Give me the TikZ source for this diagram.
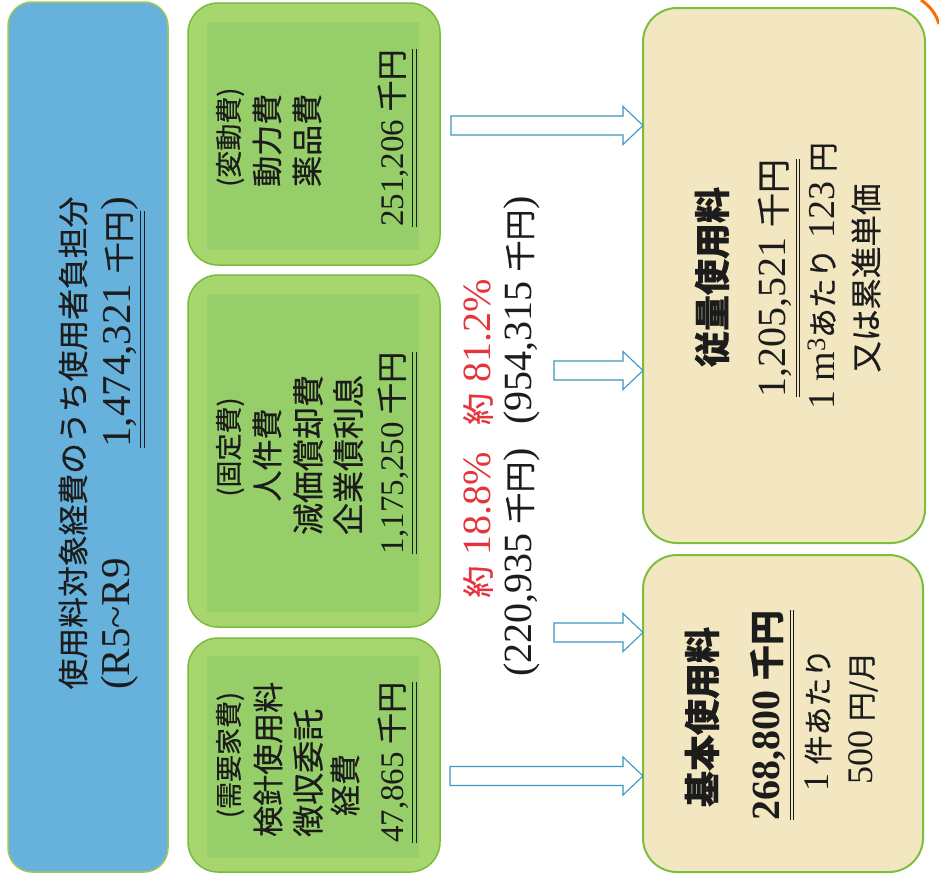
\documentclass[tikz,border=0pt]{standalone}
\usepackage{fontspec}
\setmainfont{Liberation Serif}
\newfontfamily\jp[FakeBold=0.6]{Noto Sans CJK JP}
\usetikzlibrary{calc}

\definecolor{bluefill}{HTML}{66B2DC}
\definecolor{blueedge}{HTML}{9CCB55}
\definecolor{greenfill}{HTML}{A8D66E}
\definecolor{greeninner}{HTML}{96CF69}
\definecolor{greenedge}{HTML}{7BBB3C}
\definecolor{beigefill}{HTML}{F3E7C1}
\definecolor{beigeedge}{HTML}{7DBF3C}
\definecolor{arrowedge}{HTML}{3D97BF}
\definecolor{redtxt}{HTML}{E5343C}
\definecolor{ink}{HTML}{1C1C1C}

\newcommand\sz[1]{\fontsize{#1}{#1}\selectfont}
\newcommand\J[2]{{\jp\sz{#1}#2}}
\newcommand\blockarrow[2]{%
  \draw[barrow] let \p1=(#1), \p2=(#2 |- #1) in
    (\x1,\y1+9.5pt) -- (\x2-20pt,\y1+9.5pt) -- (\x2-20pt,\y1+19pt) -- (\x2,\y1)
    -- (\x2-20pt,\y1-19pt) -- (\x2-20pt,\y1-9.5pt) -- (\x1,\y1-9.5pt) -- cycle;}

\tikzset{
  box/.style={rectangle, inner sep=0pt, outer sep=0pt},
  bluebox/.style={box, fill=bluefill, draw=blueedge, line width=1.5pt, rounded corners=24pt},
  greenbox/.style={box, fill=greenfill, draw=greenedge, line width=1.5pt, rounded corners=30pt},
  innerbox/.style={box, fill=greeninner},
  beigebox/.style={box, fill=beigefill, draw=beigeedge, line width=2pt, rounded corners=34pt},
  txt/.style={rotate=90, inner sep=0pt, text=ink},
  uline/.style={draw=ink, line width=1pt},
  barrow/.style={draw=arrowedge, line width=1.1pt, fill=white, line join=miter},
}

\begin{document}
\begin{tikzpicture}[x=1pt, y=-1pt]
\useasboundingbox (0,0) rectangle (939,876);
\fill[white] (0,0) rectangle (939,876);

% boxes
\node[bluebox, minimum width=160pt, minimum height=870pt] (blue) at (88,437) {};
\node[greenbox, minimum width=252pt, minimum height=262pt] (g1) at (314,134) {};
\node[innerbox, minimum width=212pt, minimum height=228pt] (g1i) at (313,136) {};
\node[greenbox, minimum width=252pt, minimum height=352pt] (g2) at (314,451) {};
\node[innerbox, minimum width=212pt, minimum height=318pt] (g2i) at (313,453) {};
\node[greenbox, minimum width=252pt, minimum height=234pt] (g3) at (314,755) {};
\node[innerbox, minimum width=212pt, minimum height=202pt] (g3i) at (313,757) {};
\node[beigebox, minimum width=282pt, minimum height=535pt] (b1) at (784,275.5) {};
\node[beigebox, minimum width=280pt, minimum height=317pt] (b2) at (783,713.5) {};

% orange fragment at top right
\draw[color=orange!85!red, line width=3pt] (921,0) .. controls (930,6) and (936,14) .. (939,24);

% arrows
\coordinate (a1s) at (451,125.5);
\coordinate (a2s) at (554,370.5);
\coordinate (a3s) at (554,632.5);
\coordinate (a4s) at (450,776);
\blockarrow{a1s}{b1.west}
\blockarrow{a2s}{b1.west}
\blockarrow{a3s}{b2.west}
\blockarrow{a4s}{b2.west}

% blue box texts
\node[txt] (bt1) at (73,443) {\J{30.8}{使用料対象経費のうち使用者負担分}};
\node[txt, anchor=west] (bt2a) at (120,690) {\sz{41}(R5\textasciitilde R9};
\node[txt, anchor=east] (bt2c) at (120,197) {\sz{41})};
\node[txt, anchor=east] (bt2b) at (bt2c.west) {\sz{41}1,474,321 \J{31}{千円}};
\draw[uline] ([xshift=4pt]bt2b.south west) -- ([xshift=4pt]bt2b.south east);
\draw[uline] ([xshift=7.5pt]bt2b.south west) -- ([xshift=7.5pt]bt2b.south east);

% green box 1
\node[txt, anchor=west] (g1a) at (230,187) {\J{27}{(変動費)}};
\node[txt, anchor=west] (g1b) at (267,187) {\J{31}{動力費}};
\node[txt, anchor=west] (g1c) at (307,187) {\J{31}{薬品費}};
\node[txt, anchor=west] (g1d) at (393,227) {\sz{33}251,206 \J{31}{千円}};
\draw[uline] ([xshift=4pt]g1d.south west) -- ([xshift=4pt]g1d.south east);
\draw[uline] ([xshift=7.5pt]g1d.south west) -- ([xshift=7.5pt]g1d.south east);

% green box 2
\node[txt] (g2a) at (230,447) {\J{27}{(固定費)}};
\node[txt] (g2b) at (267,455) {\J{31}{人件費}};
\node[txt] (g2c) at (308,455) {\J{32}{減価償却費}};
\node[txt] (g2d) at (348,455) {\J{32}{企業債利息}};
\node[txt] (g2e) at (393,453) {\sz{33}1,175,250 \J{31}{千円}};
\draw[uline] ([xshift=4pt]g2e.south west) -- ([xshift=4pt]g2e.south east);
\draw[uline] ([xshift=7.5pt]g2e.south west) -- ([xshift=7.5pt]g2e.south east);

% green box 3
\node[txt] (g3a) at (230,755) {\J{27}{(需要家費)}};
\node[txt, anchor=west] (g3b) at (268,837) {\J{31}{検針使用料}};
\node[txt, anchor=west] (g3c) at (308,837) {\J{32}{徴収委託}};
\node[txt] (g3d) at (345,785) {\J{31}{経費}};
\node[txt, anchor=west] (g3e) at (393,843) {\sz{33}47,865 \J{31}{千円}};
\draw[uline] ([xshift=4pt]g3e.south west) -- ([xshift=4pt]g3e.south east);
\draw[uline] ([xshift=7.5pt]g3e.south west) -- ([xshift=7.5pt]g3e.south east);

% middle texts
\node[txt, anchor=west, text=redtxt] (m1a) at (478,425) {\J{32}{約}\hspace{10pt}\sz{40}81.2\%};
\node[txt, anchor=west] (m1b) at (522,425) {\sz{40}(954,315 \J{31}{千円})};
\node[txt, anchor=east, text=redtxt] (m2a) at (478,452) {\J{32}{約}\hspace{10pt}\sz{40}18.8\%};
\node[txt, anchor=east] (m2b) at (522,448) {\sz{40}(220,935 \J{31}{千円})};

% right box 1
\node[txt] (r1a) at (712,277) {\J{36}{\bfseries 従量使用料}};
\node[txt] (r1b) at (775,278) {\sz{40}1,205,521 \J{34}{千円}};
\draw[uline] ([xshift=4pt]r1b.south west) -- ([xshift=4pt]r1b.south east);
\draw[uline] ([xshift=7.5pt]r1b.south west) -- ([xshift=7.5pt]r1b.south east);
\node[txt] (r1c) at (822,276) {\sz{38}1 m\textsuperscript{3}\J{30}{あたり} 123 \J{30}{円}};
\node[txt] (r1d) at (866,278) {\J{31.5}{又は累進単価}};

% right box 2
\node[txt] (r2a) at (702,717) {\J{36}{\bfseries 基本使用料}};
\node[txt] (r2b) at (768,715) {\bfseries\sz{40}268,800 \J{35}{\bfseries 千円}};
\draw[uline] ([xshift=4pt]r2b.south west) -- ([xshift=4pt]r2b.south east);
\draw[uline] ([xshift=7.5pt]r2b.south west) -- ([xshift=7.5pt]r2b.south east);
\node[txt] (r2c) at (818,720) {\sz{36}1 \J{29}{件あたり}};
\node[txt] (r2d) at (863,718) {\sz{36}500 \J{29}{円/月}};
\end{tikzpicture}
\end{document}
